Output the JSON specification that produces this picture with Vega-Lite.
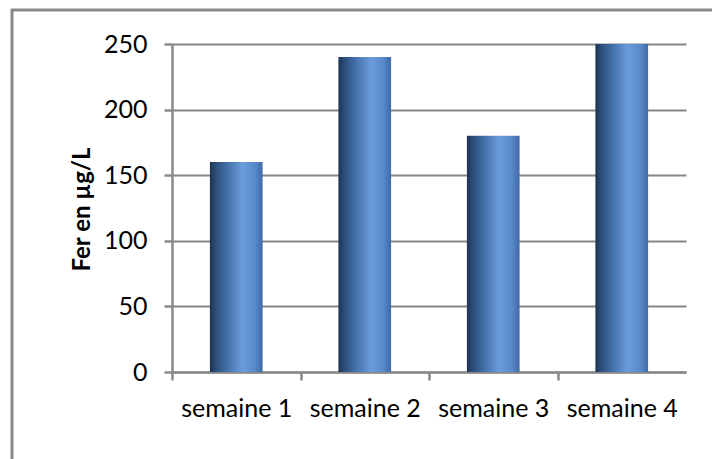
{
  "$schema": "https://vega.github.io/schema/vega-lite/v6.json",
  "autosize": "none",
  "width": 710,
  "height": 459,
  "padding": {"left": 12, "top": 10, "right": -10, "bottom": -10},
  "background": "white",
  "config": {
    "font": "Lato",
    "view": {"stroke": "#8a8a8a", "strokeWidth": 3}
  },
  "data": {
    "values": [
      {"semaine": "semaine 1", "fer": 160},
      {"semaine": "semaine 2", "fer": 240},
      {"semaine": "semaine 3", "fer": 180},
      {"semaine": "semaine 4", "fer": 250}
    ]
  },
  "mark": {
    "type": "bar",
    "color": {
      "gradient": "linear",
      "x1": 0, "y1": 0, "x2": 1, "y2": 0,
      "stops": [
        {"offset": 0, "color": "#1d3352"},
        {"offset": 0.1, "color": "#2b4b76"},
        {"offset": 0.35, "color": "#4674ae"},
        {"offset": 0.62, "color": "#6b9cda"},
        {"offset": 0.85, "color": "#5a89c9"},
        {"offset": 1, "color": "#3f6ba6"}
      ]
    }
  },
  "encoding": {
    "x": {
      "field": "semaine",
      "type": "nominal",
      "sort": null,
      "scale": {"range": [160, 674], "paddingInner": 0.59, "paddingOuter": 0.295},
      "axis": {
        "orient": "bottom",
        "offset": -97,
        "title": null,
        "grid": false,
        "tickOffset": -64.25,
        "labelOffset": 64.25,
        "labelAngle": 0,
        "labelFontSize": 25,
        "labelColor": "#000000",
        "labelPadding": 16,
        "tickSize": 8,
        "tickColor": "#8a8a8a",
        "tickWidth": 2.5,
        "domainColor": "#8a8a8a",
        "domainWidth": 2.5
      }
    },
    "y": {
      "field": "fer",
      "type": "quantitative",
      "scale": {"domain": [0, 250], "range": [362, 34], "nice": false, "zero": true},
      "axis": {
        "orient": "left",
        "offset": -160,
        "values": [0, 50, 100, 150, 200, 250],
        "title": "Fer en µg/L",
        "titleFontSize": 24,
        "titleFontWeight": "bold",
        "titleColor": "#000000",
        "titleX": -83,
        "titleY": 199,
        "titleBaseline": "alphabetic",
        "labelFontSize": 25,
        "labelColor": "#000000",
        "labelPadding": 17,
        "tickSize": 8,
        "tickColor": "#8a8a8a",
        "tickWidth": 2.5,
        "domainColor": "#8a8a8a",
        "domainWidth": 2.5,
        "grid": true,
        "gridColor": "#878787",
        "gridWidth": 2
      }
    }
  }
}
